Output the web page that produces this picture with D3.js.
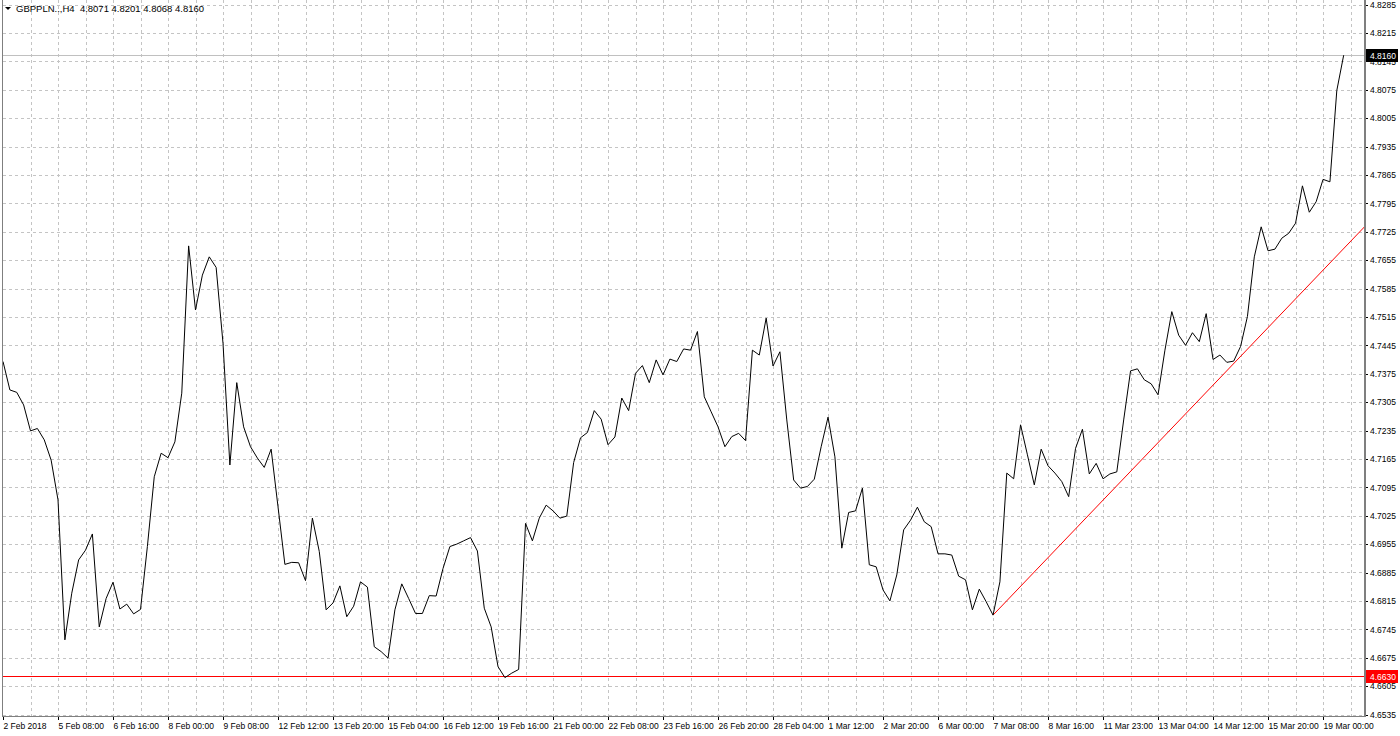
<!DOCTYPE html>
<html>
<head>
<meta charset="utf-8">
<script src="https://cdn.jsdelivr.net/npm/d3@7"></script>
<style>
  body { margin: 0; background: #fff; }
  svg { display: block; font-family: "Liberation Sans", Arial, sans-serif; }
</style>
</head>
<body>
<script>
// data ////////////////////////////////////////////
const symbol = "GBPPLN..,H4";
const lastBar = [4.8071, 4.8201, 4.8068, 4.8160]; // open high low close

// H4 closes, 2 Feb 2018 -> 19 Mar 2018
const closes = [
  4.7405, 4.7335, 4.7329, 4.7298, 4.7234, 4.7240, 4.7212, 4.7162, 4.7064, 4.6719,
  4.6834, 4.6916, 4.6940, 4.6980, 4.6751, 4.6821, 4.6861, 4.6795, 4.6807, 4.6783,
  4.6794, 4.6949, 4.7121, 4.7179, 4.7168, 4.7207, 4.7327, 4.7690, 4.7532, 4.7618,
  4.7663, 4.7637, 4.7450, 4.7150, 4.7353, 4.7244, 4.7195, 4.7167, 4.7144, 4.7189,
  4.7047, 4.6905, 4.6910, 4.6909, 4.6865, 4.7019, 4.6937, 4.6793, 4.6810, 4.6852,
  4.6776, 4.6802, 4.6862, 4.6849, 4.6702, 4.6690, 4.6674, 4.6793, 4.6857, 4.6821,
  4.6784, 4.6784, 4.6828, 4.6827, 4.6895, 4.6949, 4.6955, 4.6963, 4.6971, 4.6938,
  4.6797, 4.6751, 4.6653, 4.6626, 4.6637, 4.6646, 4.7006, 4.6963, 4.7019, 4.7051,
  4.7037, 4.7019, 4.7024, 4.7156, 4.7217, 4.7230, 4.7284, 4.7263, 4.7200, 4.7219,
  4.7315, 4.7284, 4.7376, 4.7395, 4.7353, 4.7409, 4.7372, 4.7411, 4.7405, 4.7436,
  4.7433, 4.7479, 4.7318, 4.7281, 4.7244, 4.7195, 4.7220, 4.7228, 4.7210, 4.7433,
  4.7421, 4.7512, 4.7394, 4.7429, 4.7261, 4.7113, 4.7093, 4.7097, 4.7115, 4.7195,
  4.7268, 4.7170, 4.6945, 4.7033, 4.7037, 4.7093, 4.6904, 4.6899, 4.6842, 4.6815,
  4.6879, 4.6990, 4.7014, 4.7046, 4.7010, 4.6998, 4.6931, 4.6931, 4.6928, 4.6876,
  4.6867, 4.6793, 4.6844, 4.6813, 4.6780, 4.6862, 4.7130, 4.7116, 4.7249, 4.7175,
  4.7101, 4.7189, 4.7148, 4.7130, 4.7109, 4.7072, 4.7191, 4.7238, 4.7128, 4.7154,
  4.7116, 4.7128, 4.7133, 4.7261, 4.7382, 4.7387, 4.7360, 4.7350, 4.7323, 4.7433,
  4.7528, 4.7470, 4.7445, 4.7476, 4.7454, 4.7523, 4.7410, 4.7421, 4.7403, 4.7406,
  4.7442, 4.7516, 4.7663, 4.7737, 4.7678, 4.7682, 4.7709, 4.7721, 4.7746, 4.7838,
  4.7773, 4.7799, 4.7854, 4.7848, 4.8073, 4.8160
];

// one label every 8 bars
const timeLabels = [
  "2 Feb 2018", "5 Feb 08:00", "6 Feb 16:00", "8 Feb 00:00", "9 Feb 08:00",
  "12 Feb 12:00", "13 Feb 20:00", "15 Feb 04:00", "16 Feb 12:00", "19 Feb 16:00",
  "21 Feb 00:00", "22 Feb 08:00", "23 Feb 16:00", "26 Feb 20:00", "28 Feb 04:00",
  "1 Mar 12:00", "2 Mar 20:00", "6 Mar 00:00", "7 Mar 08:00", "8 Mar 16:00",
  "11 Mar 23:00", "13 Mar 04:00", "14 Mar 12:00", "15 Mar 20:00", "19 Mar 00:00"
];

const priceTicks = [
  4.8285, 4.8215, 4.8145, 4.8075, 4.8005, 4.7935, 4.7865, 4.7795, 4.7725,
  4.7655, 4.7585, 4.7515, 4.7445, 4.7375, 4.7305, 4.7235, 4.7165, 4.7095,
  4.7025, 4.6955, 4.6885, 4.6815, 4.6745, 4.6675, 4.6605, 4.6535
];

const supportLevel = 4.6630;
const bidLevel = 4.8160;
const trendPoints = [
  { bar: 144, price: 4.6780 },
  { bar: 179, price: 4.7400 }
];

// layout //////////////////////////////////////////
const width = 1400, height = 736;
const left = 3, right = 1365, bottom = 716;
const shiftBars = 3.1; // empty space right of the last bar
const labelStep = 8;
const fmt = d3.format(".4f");

const svg = d3.select("body").append("svg")
  .attr("width", width)
  .attr("height", height);

const x = d3.scaleLinear()
  .domain([0, closes.length - 1 + shiftBars])
  .range([left, right]);

const y = d3.scaleLinear()
  .domain([4.6535, 4.8285])
  .range([714.5, 4.5]);

svg.append("clipPath").attr("id", "plot")
  .append("rect")
  .attr("x", left).attr("y", 0)
  .attr("width", right - left).attr("height", bottom);

// grid ////////////////////////////////////////////
const grid = svg.append("g")
  .attr("stroke", "#c4c4c4")
  .attr("stroke-dasharray", "3,3")
  .attr("shape-rendering", "crispEdges");

grid.selectAll(".h").data(priceTicks).join("line")
  .attr("x1", left).attr("x2", right)
  .attr("y1", d => Math.round(y(d)) + 0.5)
  .attr("y2", d => Math.round(y(d)) + 0.5);

grid.selectAll(".v").data(d3.range(4, closes.length + shiftBars, 4)).join("line")
  .attr("x1", d => Math.round(x(d)) + 0.5)
  .attr("x2", d => Math.round(x(d)) + 0.5)
  .attr("y1", 0).attr("y2", bottom);

// levels //////////////////////////////////////////
svg.append("line")
  .attr("x1", left).attr("x2", right)
  .attr("y1", Math.round(y(bidLevel)) + 0.5).attr("y2", Math.round(y(bidLevel)) + 0.5)
  .attr("stroke", "#c0c0c0");

svg.append("line")
  .attr("x1", left).attr("x2", right)
  .attr("y1", Math.round(y(supportLevel)) + 0.5).attr("y2", Math.round(y(supportLevel)) + 0.5)
  .attr("stroke", "#ff0000");

// trend ray, extended to the right edge
const slope = (trendPoints[1].price - trendPoints[0].price) / (trendPoints[1].bar - trendPoints[0].bar);
const endBar = x.domain()[1];
svg.append("line")
  .attr("clip-path", "url(#plot)")
  .attr("x1", x(trendPoints[0].bar)).attr("y1", y(trendPoints[0].price))
  .attr("x2", x(endBar)).attr("y2", y(trendPoints[0].price + slope * (endBar - trendPoints[0].bar)))
  .attr("stroke", "#ff0000");

// price line //////////////////////////////////////
const line = d3.line()
  .x((d, i) => x(i))
  .y(d => y(d));

svg.append("path")
  .datum(closes)
  .attr("clip-path", "url(#plot)")
  .attr("fill", "none")
  .attr("stroke", "#000")
  .attr("stroke-width", 1)
  .attr("d", line);

// axes ////////////////////////////////////////////
const yAxis = svg.append("g")
  .attr("transform", `translate(${right},0)`)
  .call(d3.axisRight(y).tickValues(priceTicks).tickSize(3).tickPadding(2).tickFormat(fmt));

const xAxis = svg.append("g")
  .attr("transform", `translate(0,${bottom})`)
  .call(d3.axisBottom(x)
    .tickValues(timeLabels.map((d, i) => i * labelStep))
    .tickFormat((d, i) => timeLabels[i])
    .tickSize(4).tickPadding(3));

[yAxis, xAxis].forEach(g => {
  g.attr("font-family", null).attr("font-size", 8.5);
  g.select(".domain").remove();
  g.selectAll(".tick line").attr("stroke", "#000").attr("shape-rendering", "crispEdges");
  g.selectAll(".tick text").attr("fill", "#000");
});
xAxis.selectAll(".tick text").attr("text-anchor", "start").attr("dx", 0);

// frame
svg.append("line")
  .attr("x1", left - 1).attr("x2", right).attr("y1", bottom + 0.5).attr("y2", bottom + 0.5)
  .attr("stroke", "#7f7f7f");
svg.append("line")
  .attr("x1", right).attr("x2", right).attr("y1", 0).attr("y2", bottom + 1)
  .attr("stroke", "#7f7f7f").attr("stroke-width", 2);
svg.append("line")
  .attr("x1", left - 0.5).attr("x2", left - 0.5).attr("y1", 0).attr("y2", bottom + 1)
  .attr("stroke", "#7f7f7f");

// level tags on the price scale
const tags = [
  { price: bidLevel, fill: "#000" },
  { price: supportLevel, fill: "#ff0000" }
];
const tag = svg.selectAll(".tag").data(tags).join("g")
  .attr("transform", d => `translate(${right + 1},${Math.round(y(d.price))})`);
tag.append("rect")
  .attr("x", 0).attr("y", -6).attr("width", 32).attr("height", 13)
  .attr("fill", d => d.fill);
tag.append("text")
  .attr("x", 4).attr("y", 3.5)
  .attr("font-size", 8.5)
  .attr("fill", "#fff")
  .text(d => fmt(d.price));

// header //////////////////////////////////////////
svg.append("path")
  .attr("d", "M5,7L11,7L8,10Z")
  .attr("fill", "#000");
svg.append("text")
  .attr("x", 16).attr("y", 12)
  .attr("font-size", 9.5)
  .attr("fill", "#000")
  .attr("xml:space", "preserve")
  .text(`${symbol}  ${lastBar.map(fmt).join(" ")}`);
</script>
</body>
</html>
